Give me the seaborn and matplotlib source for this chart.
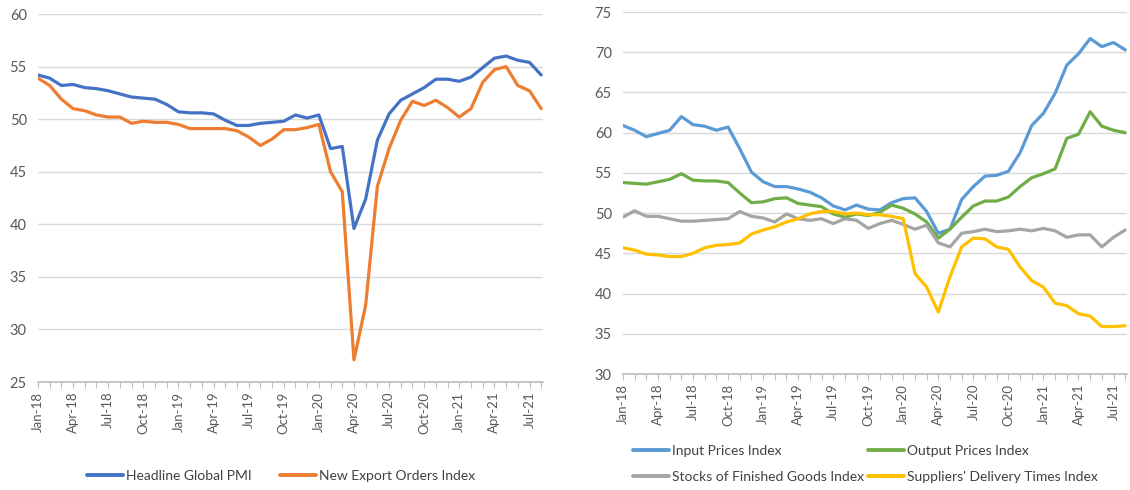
import numpy as np
import pandas as pd
import matplotlib
matplotlib.use("Agg")
import matplotlib.pyplot as plt
import seaborn as sns

# === Data (monthly, Jan-18 .. Aug-21) ===
months = pd.date_range("2018-01-01", periods=44, freq="MS").strftime("%b-%y").tolist()

headline_pmi = [54.2, 53.9, 53.2, 53.3, 53.0, 52.9, 52.7, 52.4, 52.1, 52.0,
                51.9, 51.4, 50.7, 50.6, 50.6, 50.5, 49.9, 49.4, 49.4, 49.6,
                49.7, 49.8, 50.4, 50.1, 50.4, 47.2, 47.4, 39.6, 42.4, 48.0,
                50.5, 51.8, 52.4, 53.0, 53.8, 53.8, 53.6, 54.0, 54.9, 55.8,
                56.0, 55.6, 55.4, 54.2]
new_export_orders = [53.9, 53.2, 51.9, 51.0, 50.8, 50.4, 50.2, 50.2, 49.6, 49.8,
                     49.7, 49.7, 49.5, 49.1, 49.1, 49.1, 49.1, 48.9, 48.3, 47.5,
                     48.1, 49.0, 49.0, 49.2, 49.5, 45.0, 43.1, 27.1, 32.3, 43.6,
                     47.2, 49.9, 51.7, 51.3, 51.8, 51.1, 50.2, 51.0, 53.5, 54.7,
                     55.0, 53.2, 52.7, 51.0]

input_prices = [60.9, 60.3, 59.5, 59.9, 60.3, 62.0, 61.0, 60.8, 60.3, 60.7,
                58.0, 55.1, 53.9, 53.3, 53.3, 53.0, 52.6, 51.9, 50.9, 50.4,
                51.0, 50.5, 50.4, 51.3, 51.8, 51.9, 50.2, 47.5, 48.0, 51.7,
                53.3, 54.6, 54.7, 55.2, 57.5, 60.9, 62.4, 64.9, 68.4, 69.8,
                71.7, 70.7, 71.2, 70.3]
output_prices = [53.8, 53.7, 53.6, 53.9, 54.2, 54.9, 54.1, 54.0, 54.0, 53.8,
                 52.5, 51.3, 51.4, 51.8, 51.9, 51.2, 51.0, 50.8, 49.9, 49.5,
                 49.9, 49.7, 50.1, 51.0, 50.6, 49.9, 48.9, 46.9, 48.0, 49.5,
                 50.9, 51.5, 51.5, 52.0, 53.3, 54.4, 54.9, 55.5, 59.3, 59.8,
                 62.6, 60.8, 60.3, 60.0]
stocks_finished = [49.5, 50.3, 49.6, 49.6, 49.3, 49.0, 49.0, 49.1, 49.2, 49.3,
                   50.2, 49.6, 49.4, 48.9, 49.9, 49.3, 49.1, 49.3, 48.7, 49.3,
                   49.1, 48.1, 48.7, 49.1, 48.6, 48.0, 48.5, 46.3, 45.8, 47.5,
                   47.7, 48.0, 47.7, 47.8, 48.0, 47.8, 48.1, 47.8, 47.0, 47.3,
                   47.3, 45.8, 47.0, 47.9]
delivery_times = [45.7, 45.4, 44.9, 44.8, 44.6, 44.6, 45.0, 45.7, 46.0, 46.1,
                  46.3, 47.4, 47.9, 48.3, 48.9, 49.3, 49.9, 50.2, 50.2, 49.9,
                  50.0, 49.8, 49.8, 49.6, 49.3, 42.5, 40.8, 37.7, 42.1, 45.8,
                  46.9, 46.8, 45.8, 45.5, 43.3, 41.6, 40.8, 38.8, 38.5, 37.5,
                  37.2, 35.9, 35.9, 36.0]

left_series = {"Headline Global PMI": headline_pmi,
               "New Export Orders Index": new_export_orders}
right_series = {"Input Prices Index": input_prices,
                "Output Prices Index": output_prices,
                "Stocks of Finished Goods Index": stocks_finished,
                "Suppliers' Delivery Times Index": delivery_times}

left_colors = ["#4472C4", "#ED7D31"]
right_colors = ["#5B9BD5", "#70AD47", "#A5A5A5", "#FFC000"]

sns.set_theme(style="white")
plt.rcParams["font.family"] = ["Lato", "DejaVu Sans"]


def to_long(series):
    rows = []
    for name, vals in series.items():
        for i, v in enumerate(vals):
            rows.append({"idx": i, "value": v, "series": name})
    return pd.DataFrame(rows)


def style_axis(ax, ymin, ymax):
    ax.set_ylim(ymin, ymax)
    ax.set_yticks(np.arange(ymin, ymax + 1, 5))
    ax.set_xlim(0, len(months) - 0.85)
    ax.set_xticks(range(0, len(months), 3))
    ax.set_xticklabels(months[::3], rotation=90)
    ax.set_xticks(range(len(months)), minor=True)
    ax.grid(axis="y", color="#D9D9D9", linewidth=1)
    ax.set_axisbelow(True)
    for s in ["top", "left", "right"]:
        ax.spines[s].set_visible(False)
    ax.spines["bottom"].set_color("#BFBFBF")
    ax.tick_params(axis="x", which="both", bottom=True, length=4, width=0.8,
                   color="#BFBFBF", labelsize=9.5, labelcolor="#595959", pad=3)
    ax.tick_params(axis="y", length=0, labelsize=10.5, labelcolor="#595959", pad=8)
    ax.set_xlabel("")
    ax.set_ylabel("")


fig = plt.figure(figsize=(11.3, 4.9), dpi=100)
ax1 = fig.add_axes([0.0336, 0.2204, 0.4469, 0.751])
ax2 = fig.add_axes([0.5513, 0.2367, 0.446, 0.7388])

sns.lineplot(data=to_long(left_series), x="idx", y="value", hue="series",
             palette=left_colors, linewidth=2.3, ax=ax1)
style_axis(ax1, 25, 60)
ax1.legend(loc="center", bbox_to_anchor=(281 / 1130, 1 - 476 / 490),
           bbox_transform=fig.transFigure, ncol=2, frameon=False,
           fontsize=10, handlelength=2.6, handletextpad=0.2, columnspacing=2.0)

sns.lineplot(data=to_long(right_series), x="idx", y="value", hue="series",
             palette=right_colors, linewidth=2.3, ax=ax2)
style_axis(ax2, 30, 75)
# legend entries filled row by row (Input, Output / Stocks, Delivery)
handles, labels = ax2.get_legend_handles_labels()
order = [0, 2, 1, 3]
ax2.legend([handles[i] for i in order], [labels[i] for i in order],
           loc="center", bbox_to_anchor=(865 / 1130, 1 - 464 / 490),
           bbox_transform=fig.transFigure, ncol=2, frameon=False,
           fontsize=10, handlelength=2.6, handletextpad=0.2, columnspacing=0.3,
           labelspacing=1.05)

for leg in [ax1.get_legend(), ax2.get_legend()]:
    for t in leg.get_texts():
        t.set_color("#404040")
    for h in leg.get_lines():
        h.set_linewidth(2.8)

fig.savefig("out.png", dpi=100)
